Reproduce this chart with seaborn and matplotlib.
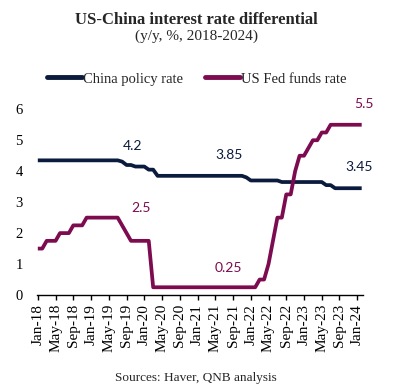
import matplotlib
matplotlib.use("Agg")
import matplotlib.pyplot as plt
import seaborn as sns
import pandas as pd
import numpy as np
from matplotlib.lines import Line2D

# ---- data (monthly, Jan-18 .. Feb-24) ----
months = pd.date_range("2018-01-01", "2024-02-01", freq="MS").strftime("%b-%y").tolist()

china_rate = (
    [4.35] * 12 +
    [4.35] * 7 + [4.31, 4.20, 4.20, 4.15, 4.15] +
    [4.15, 4.05, 4.05] + [3.85] * 9 +
    [3.85] * 11 + [3.80] +
    [3.70] * 7 + [3.65] * 5 +
    [3.65] * 5 + [3.55, 3.55] + [3.45] * 5 +
    [3.45, 3.45]
)
fed_rate = (
    [1.50, 1.50, 1.75, 1.75, 1.75, 2.00, 2.00, 2.00, 2.25, 2.25, 2.25, 2.50] +
    [2.50] * 7 + [2.25, 2.00, 1.75, 1.75, 1.75] +
    [1.75, 1.75] + [0.25] * 10 +
    [0.25] * 12 +
    [0.25, 0.25, 0.50, 0.50, 1.00, 1.75, 2.50, 2.50, 3.25, 3.25, 4.00, 4.50] +
    [4.50, 4.75, 5.00, 5.00, 5.25, 5.25] + [5.50] * 6 +
    [5.50, 5.50]
)
series_names = ["China policy rate", "US Fed funds rate"]
colors = ["#0b1b3d", "#7d0b4f"]
ytick_vals = [0, 1, 2, 3, 4, 5, 6]

# data labels: (series index, month, shown text)
labels = [
    (0, "Oct-19", "4.2"),
    (1, "Jul-19", "2.5"),
    (0, "Aug-21", "3.85"),
    (1, "Aug-21", "0.25"),
    (0, "Feb-24", "3.45"),
    (1, "Feb-24", "5.5"),
]

df = pd.DataFrame({
    "idx": list(range(len(months))) * 2,
    "month": months * 2,
    "rate": china_rate + fed_rate,
    "series": [series_names[0]] * len(months) + [series_names[1]] * len(months),
})

sns.set_theme(style="white")
plt.rcParams["font.family"] = ["Liberation Serif", "DejaVu Serif"]

fig = plt.figure(figsize=(3.96, 3.91), dpi=100)
ax = fig.add_axes([0.0927, 0.2455, 0.824, 0.475])

sns.lineplot(data=df, x="idx", y="rate", hue="series", palette=colors,
             linewidth=2.7, ax=ax, legend=False, solid_capstyle="butt")

ax.set_xlim(-0.25, len(months) - 0.7)
ax.set_ylim(0, 6)
ax.set_xlabel("")
ax.set_ylabel("")
for s in ["top", "right", "left"]:
    ax.spines[s].set_visible(False)
ax.spines["bottom"].set_color("black")
ax.spines["bottom"].set_linewidth(1.0)

tick_idx = list(range(0, len(months), 4))
ax.set_xticks(tick_idx)
ax.set_xticklabels([months[i] for i in tick_idx], rotation=90, fontsize=11)
ax.tick_params(axis="x", direction="out", length=3.5, width=1.0, color="black",
               pad=3, bottom=True, labelcolor="black")
ax.set_yticks(ytick_vals)
ax.set_yticklabels([str(v) for v in ytick_vals], fontsize=10.5)
ax.tick_params(axis="y", length=0, pad=10, labelcolor="black")
ax.grid(False)

series_vals = [china_rate, fed_rate]
offsets = {
    "4.2": (1, 14), "2.5": (17, 7), "3.85": (0, 15), "0.25": (0, 14),
    "3.45": (-2, 15), "5.5": (2, 15),
}
for si, m, txt in labels:
    i = months.index(m)
    ax.annotate(txt, xy=(i, series_vals[si][i]), xytext=offsets[txt],
                textcoords="offset points", ha="center", va="center",
                fontsize=10, color=colors[si], family=["Lato", "DejaVu Sans"],
                annotation_clip=False)

fig.text(0.497, 0.949, "US-China interest rate differential", ha="center",
         va="center", fontsize=12, fontweight="bold")
fig.text(0.497, 0.906, "(y/y, %, 2018-2024)", ha="center", va="center", fontsize=11)
fig.text(0.495, 0.033, "Sources: Haver, QNB analysis", ha="center", va="center",
         fontsize=9.5)

handles = [Line2D([0], [0], color=c, lw=3.5, solid_capstyle="round") for c in colors]
fig.legend(handles, series_names, loc="center", bbox_to_anchor=(0.497, 0.798),
           ncol=2, frameon=False, fontsize=10.5, handlelength=2.4,
           handletextpad=0.05, columnspacing=1.5)

fig.savefig("out.png", dpi=100)
